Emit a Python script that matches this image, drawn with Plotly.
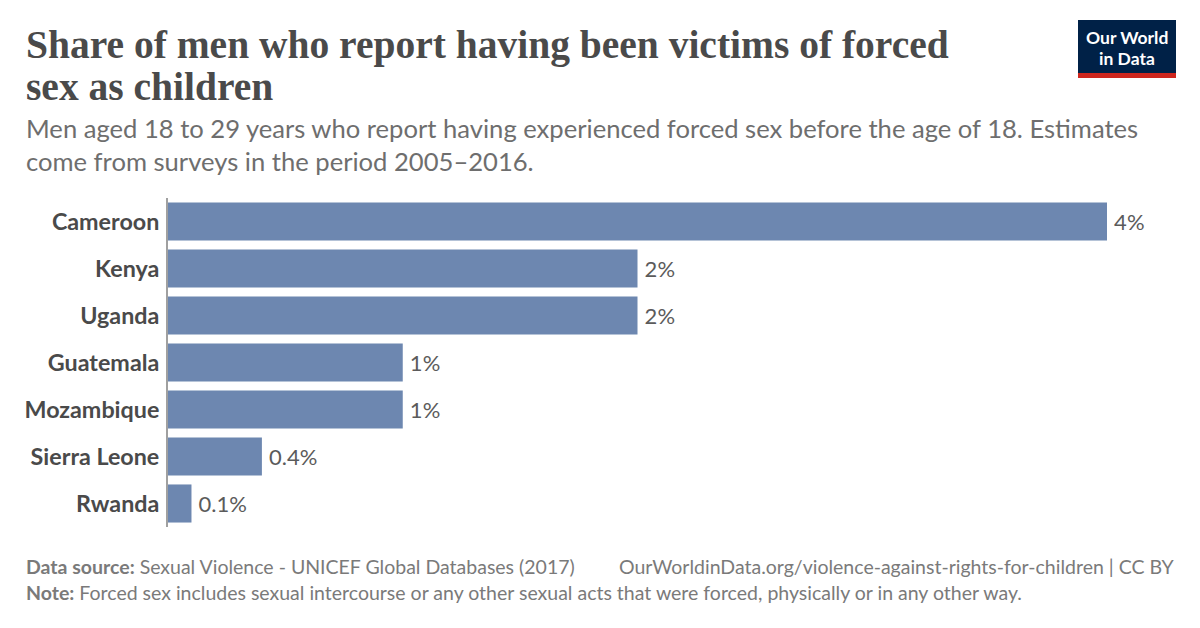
import plotly.graph_objects as go

countries = ["Cameroon", "Kenya", "Uganda", "Guatemala", "Mozambique", "Sierra Leone", "Rwanda"]
values = [4, 2, 2, 1, 1, 0.4, 0.1]
labels = ["4%", "2%", "2%", "1%", "1%", "0.4%", "0.1%"]

# page body has an 8px margin; compensate so coordinates match the 1200x628 frame
OFF = 8
W, H = 1184, 612
def px(x): return (x - OFF) / W
def py(y): return 1 - (y - OFF) / H

fig = go.Figure(go.Bar(
    x=values, y=countries, orientation="h",
    marker=dict(color="#6d87b0", line=dict(width=0)),
    text=["\u2009\u200a" + t for t in labels], textposition="outside", cliponaxis=False,
    textfont=dict(family="Lato", size=22, color="#5b5b5b"),
    hoverinfo="skip",
))

fig.update_layout(
    width=W, height=H, margin=dict(l=0, r=0, t=0, b=0),
    paper_bgcolor="white", plot_bgcolor="white",
    bargap=0.19, showlegend=False,
    xaxis=dict(domain=[px(168), px(1107)], range=[0, 4], visible=False, fixedrange=True),
    yaxis=dict(domain=[py(527), py(198)], autorange="reversed",
               showline=True, linecolor="#a0a0a0", linewidth=2,
               ticks="", ticklabelstandoff=2,
               tickfont=dict(family="Lato", size=23.3, color="#4a4a4a", weight="bold"),
               showgrid=False, fixedrange=True),
    font=dict(family="Lato"),
)

title_lines = ["Share of men who report having been victims of forced", "sex as children"]
title_y = [45, 87]
subtitle = ("Men aged 18 to 29 years who report having experienced forced sex before the age of 18. Estimates"
            "<br>come from surveys in the period 2005–2016.")

annotations = []
for t, y in zip(title_lines, title_y):
    annotations.append(dict(x=px(24), y=py(y), text=t, xanchor="left", yanchor="middle",
                            font=dict(family="Liberation Serif", size=39.5, color="#4a4a4a", weight="bold")))
annotations.append(dict(x=px(24), y=py(144.5), text=subtitle, xanchor="left", yanchor="middle", align="left",
                        font=dict(family="Lato", size=25.6, color="#6e6e6e")))
annotations += [
    dict(x=px(24), y=py(566), text="<b>Data source:</b> Sexual Violence - UNICEF Global Databases (2017)",
         xanchor="left", yanchor="middle",
         font=dict(family="Lato", size=19.5, color="#7a7a7a")),
    dict(x=px(1177), y=py(566), text="OurWorldinData.org/violence-against-rights-for-children | CC BY",
         xanchor="right", yanchor="middle",
         font=dict(family="Lato", size=19.5, color="#7a7a7a")),
    dict(x=px(24), y=py(592), text="<b>Note:</b> Forced sex includes sexual intercourse or any other sexual acts that were forced, physically or in any other way.",
         xanchor="left", yanchor="middle",
         font=dict(family="Lato", size=19.5, color="#7a7a7a")),
    dict(x=px(1127), y=py(37), text="Our World", xanchor="center", yanchor="middle",
         font=dict(family="Lato", size=17.5, color="white", weight="bold")),
    dict(x=px(1127), y=py(58), text="in Data", xanchor="center", yanchor="middle",
         font=dict(family="Lato", size=17.5, color="white", weight="bold")),
]
for a in annotations:
    a["showarrow"] = False
    a["xref"] = "paper"; a["yref"] = "paper"
fig.update_layout(annotations=annotations)

fig.update_layout(shapes=[
    dict(type="rect", xref="paper", yref="paper", x0=px(1078), x1=px(1176), y0=py(73), y1=py(20),
         fillcolor="#002147", line=dict(width=0)),
    dict(type="rect", xref="paper", yref="paper", x0=px(1078), x1=px(1176), y0=py(78), y1=py(73),
         fillcolor="#ce261e", line=dict(width=0)),
])

fig.write_html("out.html")
